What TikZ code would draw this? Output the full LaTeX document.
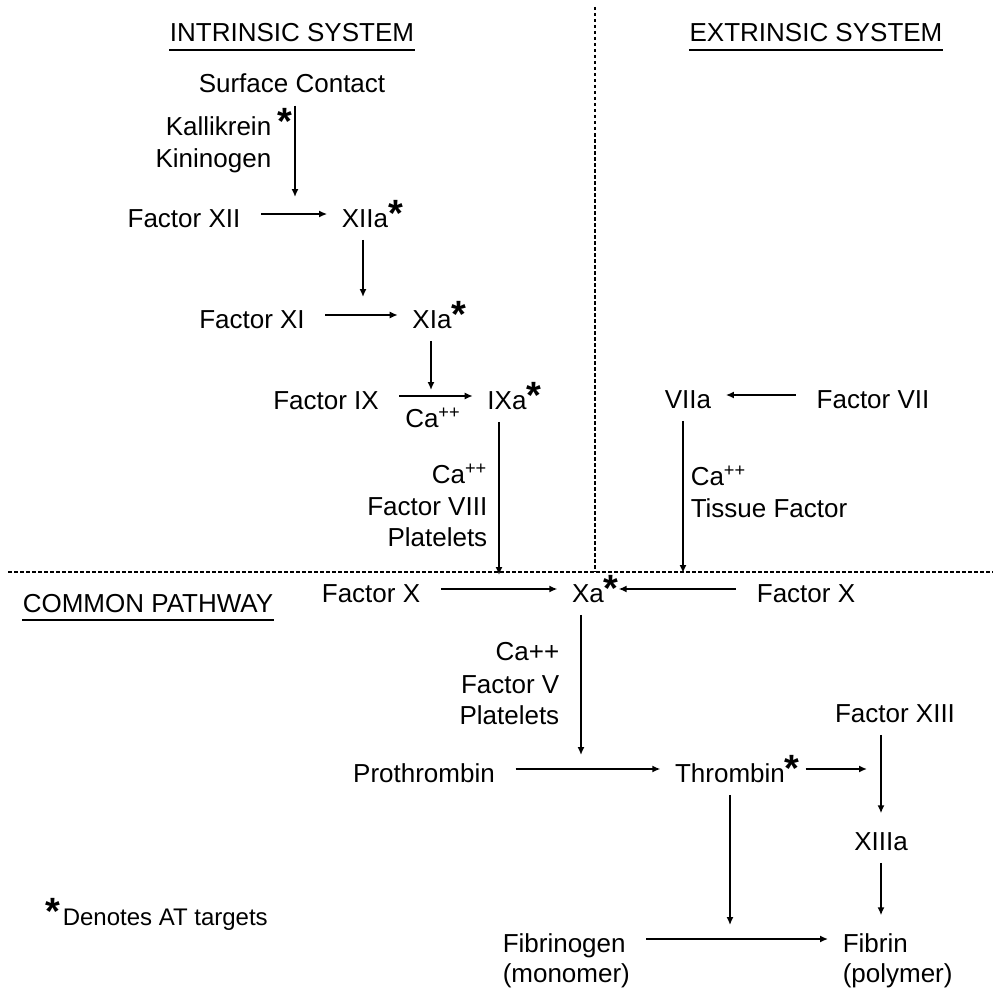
\documentclass[tikz,border=0pt]{standalone}
\usepackage{fontspec}
\setmainfont{Liberation Sans}
\usetikzlibrary{arrows.meta}
\newcommand{\atstar}{\rlap{\raisebox{0.5pt}{\fontsize{19pt}{19pt}\selectfont\bfseries *}}}
\newcommand{\caplus}{Ca\textsuperscript{++}}

\begin{document}
\begin{tikzpicture}[%
        x=0.5pt, y=-0.5pt,
        every node/.style={anchor=base, inner xsep=5pt, inner ysep=3pt, text height=13pt, text depth=0pt,
          font=\fontsize{13pt}{15.5pt}\selectfont},
        >={Latex[length=4pt,width=3.5pt]},
        line width=0.75pt,
        harr/.style={->, shorten <=5pt, shorten >=2pt},
        varr/.style={->, shorten <=3pt, shorten >=2pt},
        head/.style={inner sep=0pt},
        divider/.style={line width=0.8pt, dash pattern=on 1.75pt off 1.25pt}
      ]
      \useasboundingbox (0,0) rectangle (995,990);
      \draw[divider] (595,7) -- (595,572);
      \draw[divider] (8,572) -- (993,572);
      \node (30) [head] at (292,42) {INTRINSIC SYSTEM};
      \node (31) [head] at (816,42) {EXTRINSIC SYSTEM};
      \node (32) [head] at (148,612) {COMMON PATHWAY};
      \foreach \h in {30,31,32}
        \draw[line width=1pt] ([yshift=-4pt]\h.base west) -- ([yshift=-4pt]\h.base east);
      \node (0) at (292,93) {Surface Contact};
      \node (1) at (184,227) {Factor XII};
      \node (2) at (365,227) {XIIa\atstar};
      \node (3) at (252,328) {Factor XI};
      \node (4) at (432,328) {XIa\atstar};
      \node (5) at (326,409) {Factor IX};
      \node (6) at (507,409) {IXa\atstar};
      \node (7) at (688,408) {VIIa};
      \node (8) at (873,408) {Factor VII};
      \node (9) at (371,602) {Factor X};
      \node (10) at (588,602) {Xa\atstar};
      \node (11) at (806,602) {Factor X};
      \node (12) at (424,782) {Prothrombin};
      \node (13) at (730,782) {Thrombin\atstar};
      \node (14) at (895,722) {Factor XIII};
      \node (15) at (881,850) {XIIIa};
      \node (16) [anchor=base west] at (492,952) {Fibrinogen};
      \node (17) [anchor=base west] at (492,982) {(monomer)};
      \node (18) [anchor=base west] at (832,952) {Fibrin};
      \node (19) [anchor=base west] at (832,982) {(polymer)};
      \node (20) [anchor=base east] at (282,135) {Kallikrein\rlap{\kern3pt\atstar}};
      \node (21) [anchor=base east] at (282,167) {Kininogen};
      \node (22) at (433,427) {\caplus};
      \node (23) [anchor=base east] at (498,483) {\caplus};
      \node (24) [anchor=base east] at (498,515) {Factor VIII};
      \node (25) [anchor=base east] at (498,546) {Platelets};
      \node (26) [anchor=base west] at (680,485) {\caplus};
      \node (27) [anchor=base west] at (680,517) {Tissue Factor};
      \node (28) [anchor=base east] at (570,660) {Ca++};
      \node (29) [anchor=base east] at (570,693) {Factor V};
      \node (33) [anchor=base east] at (570,724) {Platelets};
      \node (34) [head, anchor=base west, font=\fontsize{12pt}{14pt}\selectfont] at (62,925)
        {\llap{\raisebox{0.5pt}{\fontsize{19pt}{19pt}\selectfont\bfseries *}\kern1pt}Denotes AT targets};
      \coordinate (c0) at (295,201);
      \coordinate (c1) at (363,301);
      \coordinate (c2) at (431,394);
      \coordinate (c3) at (499,579);
      \coordinate (c4) at (683,577);
      \coordinate (c5) at (581,759);
      \coordinate (c6) at (730,929);
      \coordinate (c7) at (871,769);
      \path [draw] (1) edge[harr] (2)
      (3) edge[harr] (4)
      (5) edge[harr] (6)
      (8) edge[harr] (7)
      (9) edge[harr] (10)
      (11) edge[harr] (10)
      (12) edge[harr] (13)
      (13) edge[harr] (c7)
      (16) edge[harr] (18);
      \path [draw] (0.south -| c0) edge[varr] (c0)
      (2.south -| c1) edge[varr] (c1)
      (4.south -| c2) edge[varr] (c2)
      (6.south -| c3) edge[varr] (c3)
      (7.south -| c4) edge[varr] (c4)
      (10.south -| c5) edge[varr] (c5)
      (13.south -| c6) edge[varr] (c6)
      (14.south -| 15.north) edge[varr] (15.north)
      (15.south) edge[varr] (15.south |- 18.north);
    \end{tikzpicture}
\end{document}
